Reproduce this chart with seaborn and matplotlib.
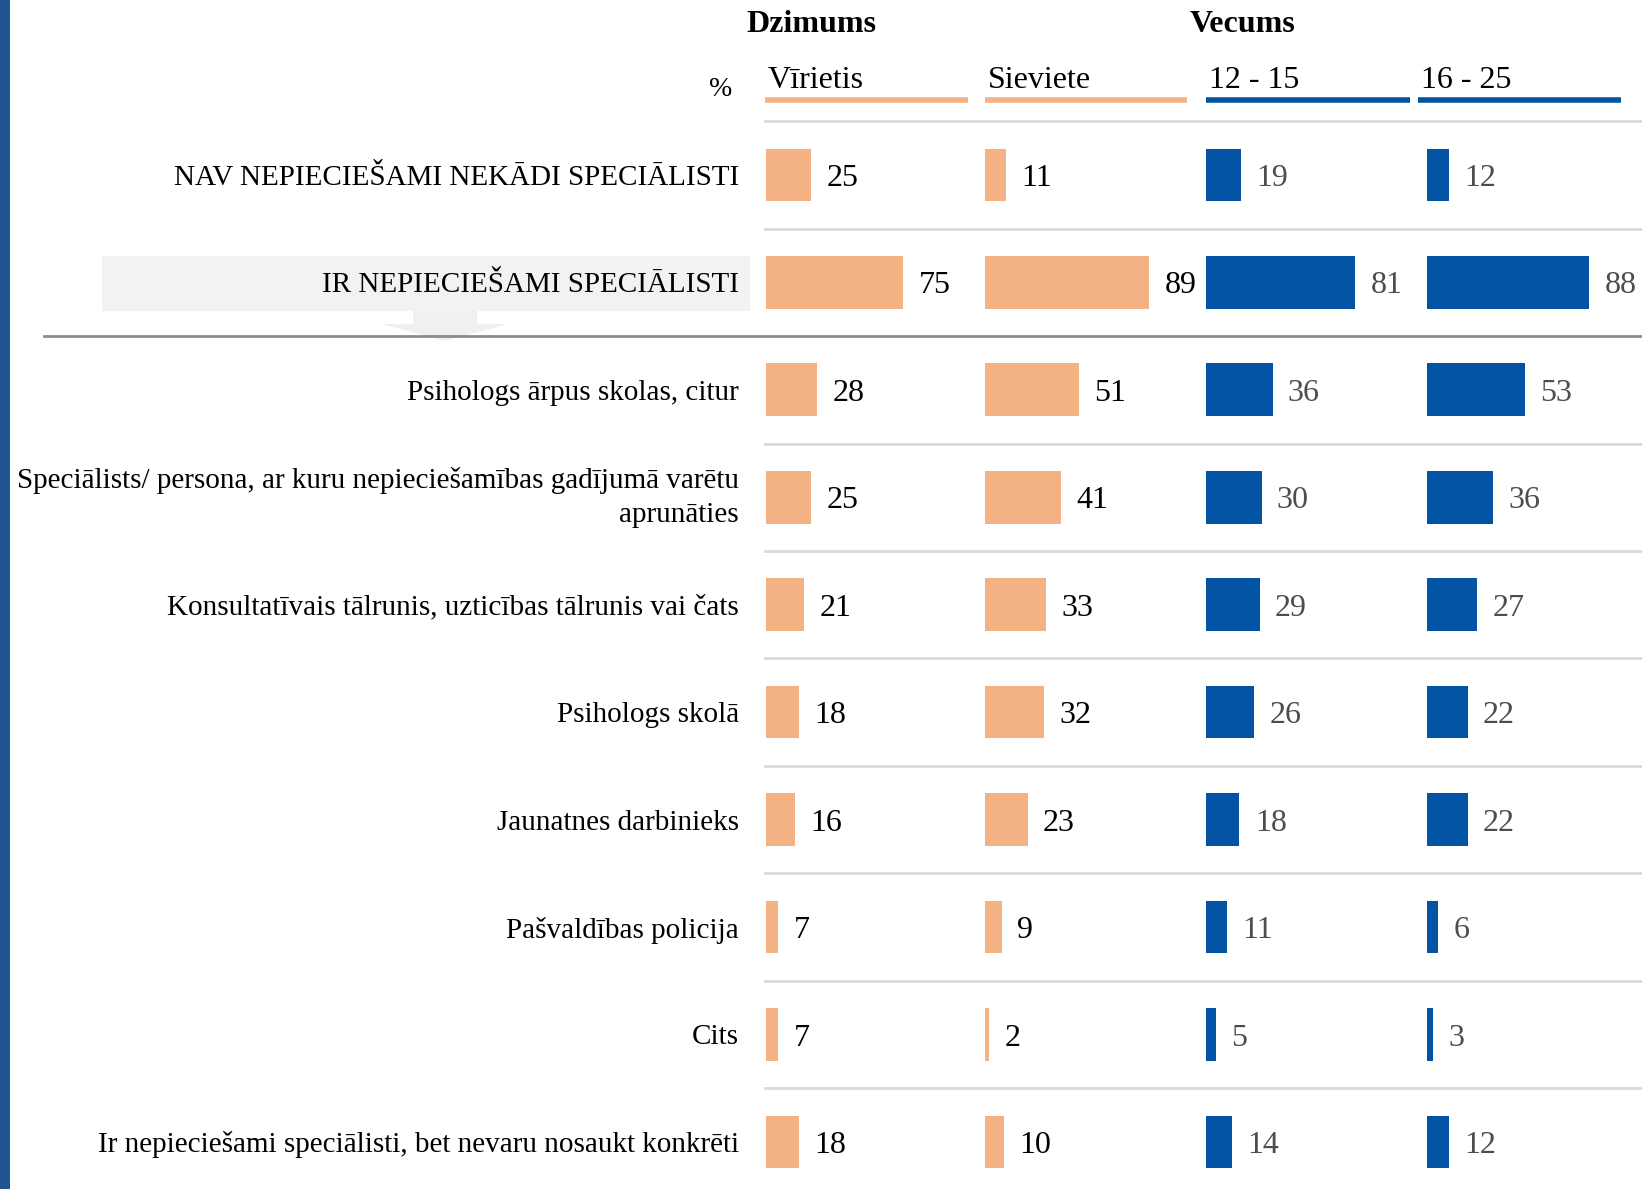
#!/usr/bin/env python3
import matplotlib
matplotlib.use('Agg')
import matplotlib.pyplot as plt
from matplotlib.patches import Rectangle, Polygon
import seaborn as sns

# data
categories = [
    "NAV NEPIECIEŠAMI NEKĀDI SPECIĀLISTI",
    "IR NEPIECIEŠAMI SPECIĀLISTI",
    "Psihologs ārpus skolas, citur",
    "Speciālists/ persona, ar kuru nepieciešamības gadījumā varētu\naprunāties",
    "Konsultatīvais tālrunis, uzticības tālrunis vai čats",
    "Psihologs skolā",
    "Jaunatnes darbinieks",
    "Pašvaldības policija",
    "Cits",
    "Ir nepieciešami speciālisti, bet nevaru nosaukt konkrēti",
]
group_titles = ["Dzimums", "Vecums"]
column_titles = ["Vīrietis", "Sieviete", "12 - 15", "16 - 25"]
virietis = [25, 75, 28, 25, 21, 18, 16, 7, 7, 18]
sieviete = [11, 89, 51, 41, 33, 32, 23, 9, 2, 10]
age_12_15 = [19, 81, 36, 30, 29, 26, 18, 11, 5, 14]
age_16_25 = [12, 88, 53, 36, 27, 22, 22, 6, 3, 12]
series = [virietis, sieviete, age_12_15, age_16_25]

PEACH = "#F4B183"
BLUE = "#0353A4"
col_colors = [PEACH, PEACH, BLUE, BLUE]
label_colors = ["black", "black", "#4D4D4D", "#4D4D4D"]

# layout in figure pixels
W, H = 1642, 1189
ROW0, ROW_H = 174.9, 107.45
col_left = [765.5, 985.4, 1206.4, 1427.3]
col_width = 220.6          # = 120 value units
underline = [(765, 968), (985, 1187), (1206, 1410), (1418, 1621)]

plt.rcParams['font.family'] = ['Liberation Serif', 'DejaVu Serif']

fig = plt.figure(figsize=(W / 100, H / 100), dpi=100)
bg = fig.add_axes([0, 0, 1, 1])
bg.set_xlim(0, W)
bg.set_ylim(H, 0)
bg.axis('off')

# left accent bar
bg.add_patch(Rectangle((0, 0), 10, H, color="#1F5491", lw=0))

# highlighted row with arrow
bg.add_patch(Rectangle((101.6, 255.5), 648, 55.5, color="#F2F2F2", lw=0, zorder=1))
bg.add_patch(Polygon([(413, 311), (477, 311), (477, 324), (508, 324), (445, 341),
                      (382, 324), (413, 324)], closed=True, color="#F0F0F0", lw=0, zorder=1))

# separators
top = ROW0 - ROW_H / 2
bg.plot([765, W], [top, top], color="#D9D9D9", lw=2, zorder=2)
for i in range(1, len(categories)):
    y = top + i * ROW_H
    if i == 2:
        bg.plot([44, W], [y, y], color="#8C8C8C", lw=2, zorder=3)
    else:
        bg.plot([765, W], [y, y], color="#D9D9D9", lw=2, zorder=2)

# row labels
for i, cat in enumerate(categories):
    va = 'center' if "\n" in cat else 'center_baseline'
    bg.text(739, ROW0 + i * ROW_H, cat, ha='right', va=va, fontsize=21,
            linespacing=1.4, zorder=4)

# headers
bg.text(811, 24, group_titles[0], ha='center', va='center', fontsize=23, fontweight='bold')
bg.text(1242, 24, group_titles[1], ha='center', va='center', fontsize=23, fontweight='bold')
bg.text(721, 90, "%", ha='center', va='center', fontsize=20)
for (x0, x1), title, c in zip(underline, column_titles, col_colors):
    bg.text(x0 + 3, 80, title, ha='left', va='center', fontsize=23)
    bg.plot([x0, x1], [100, 100], color=c, lw=4, solid_capstyle='butt')

# bar columns
ax_bottom = ROW0 + (len(categories) - 0.5) * ROW_H
for vals, left, c, lc in zip(series, col_left, col_colors, label_colors):
    ax = fig.add_axes([left / W, 1 - ax_bottom / H, col_width / W, (ax_bottom - top) / H])
    ax.set_facecolor('none')
    sns.barplot(x=vals, y=list(range(len(categories))), orient='h', color=c,
                width=0.49, saturation=1, ax=ax)
    texts = ax.bar_label(ax.containers[0], padding=11, fontsize=23, color=lc)
    for t in texts:
        t.set_va('center_baseline')
    ax.set_xlim(0, 120)
    ax.set_ylim(len(categories) - 0.5, -0.5)
    ax.axis('off')

plt.savefig("out.png", dpi=100)
